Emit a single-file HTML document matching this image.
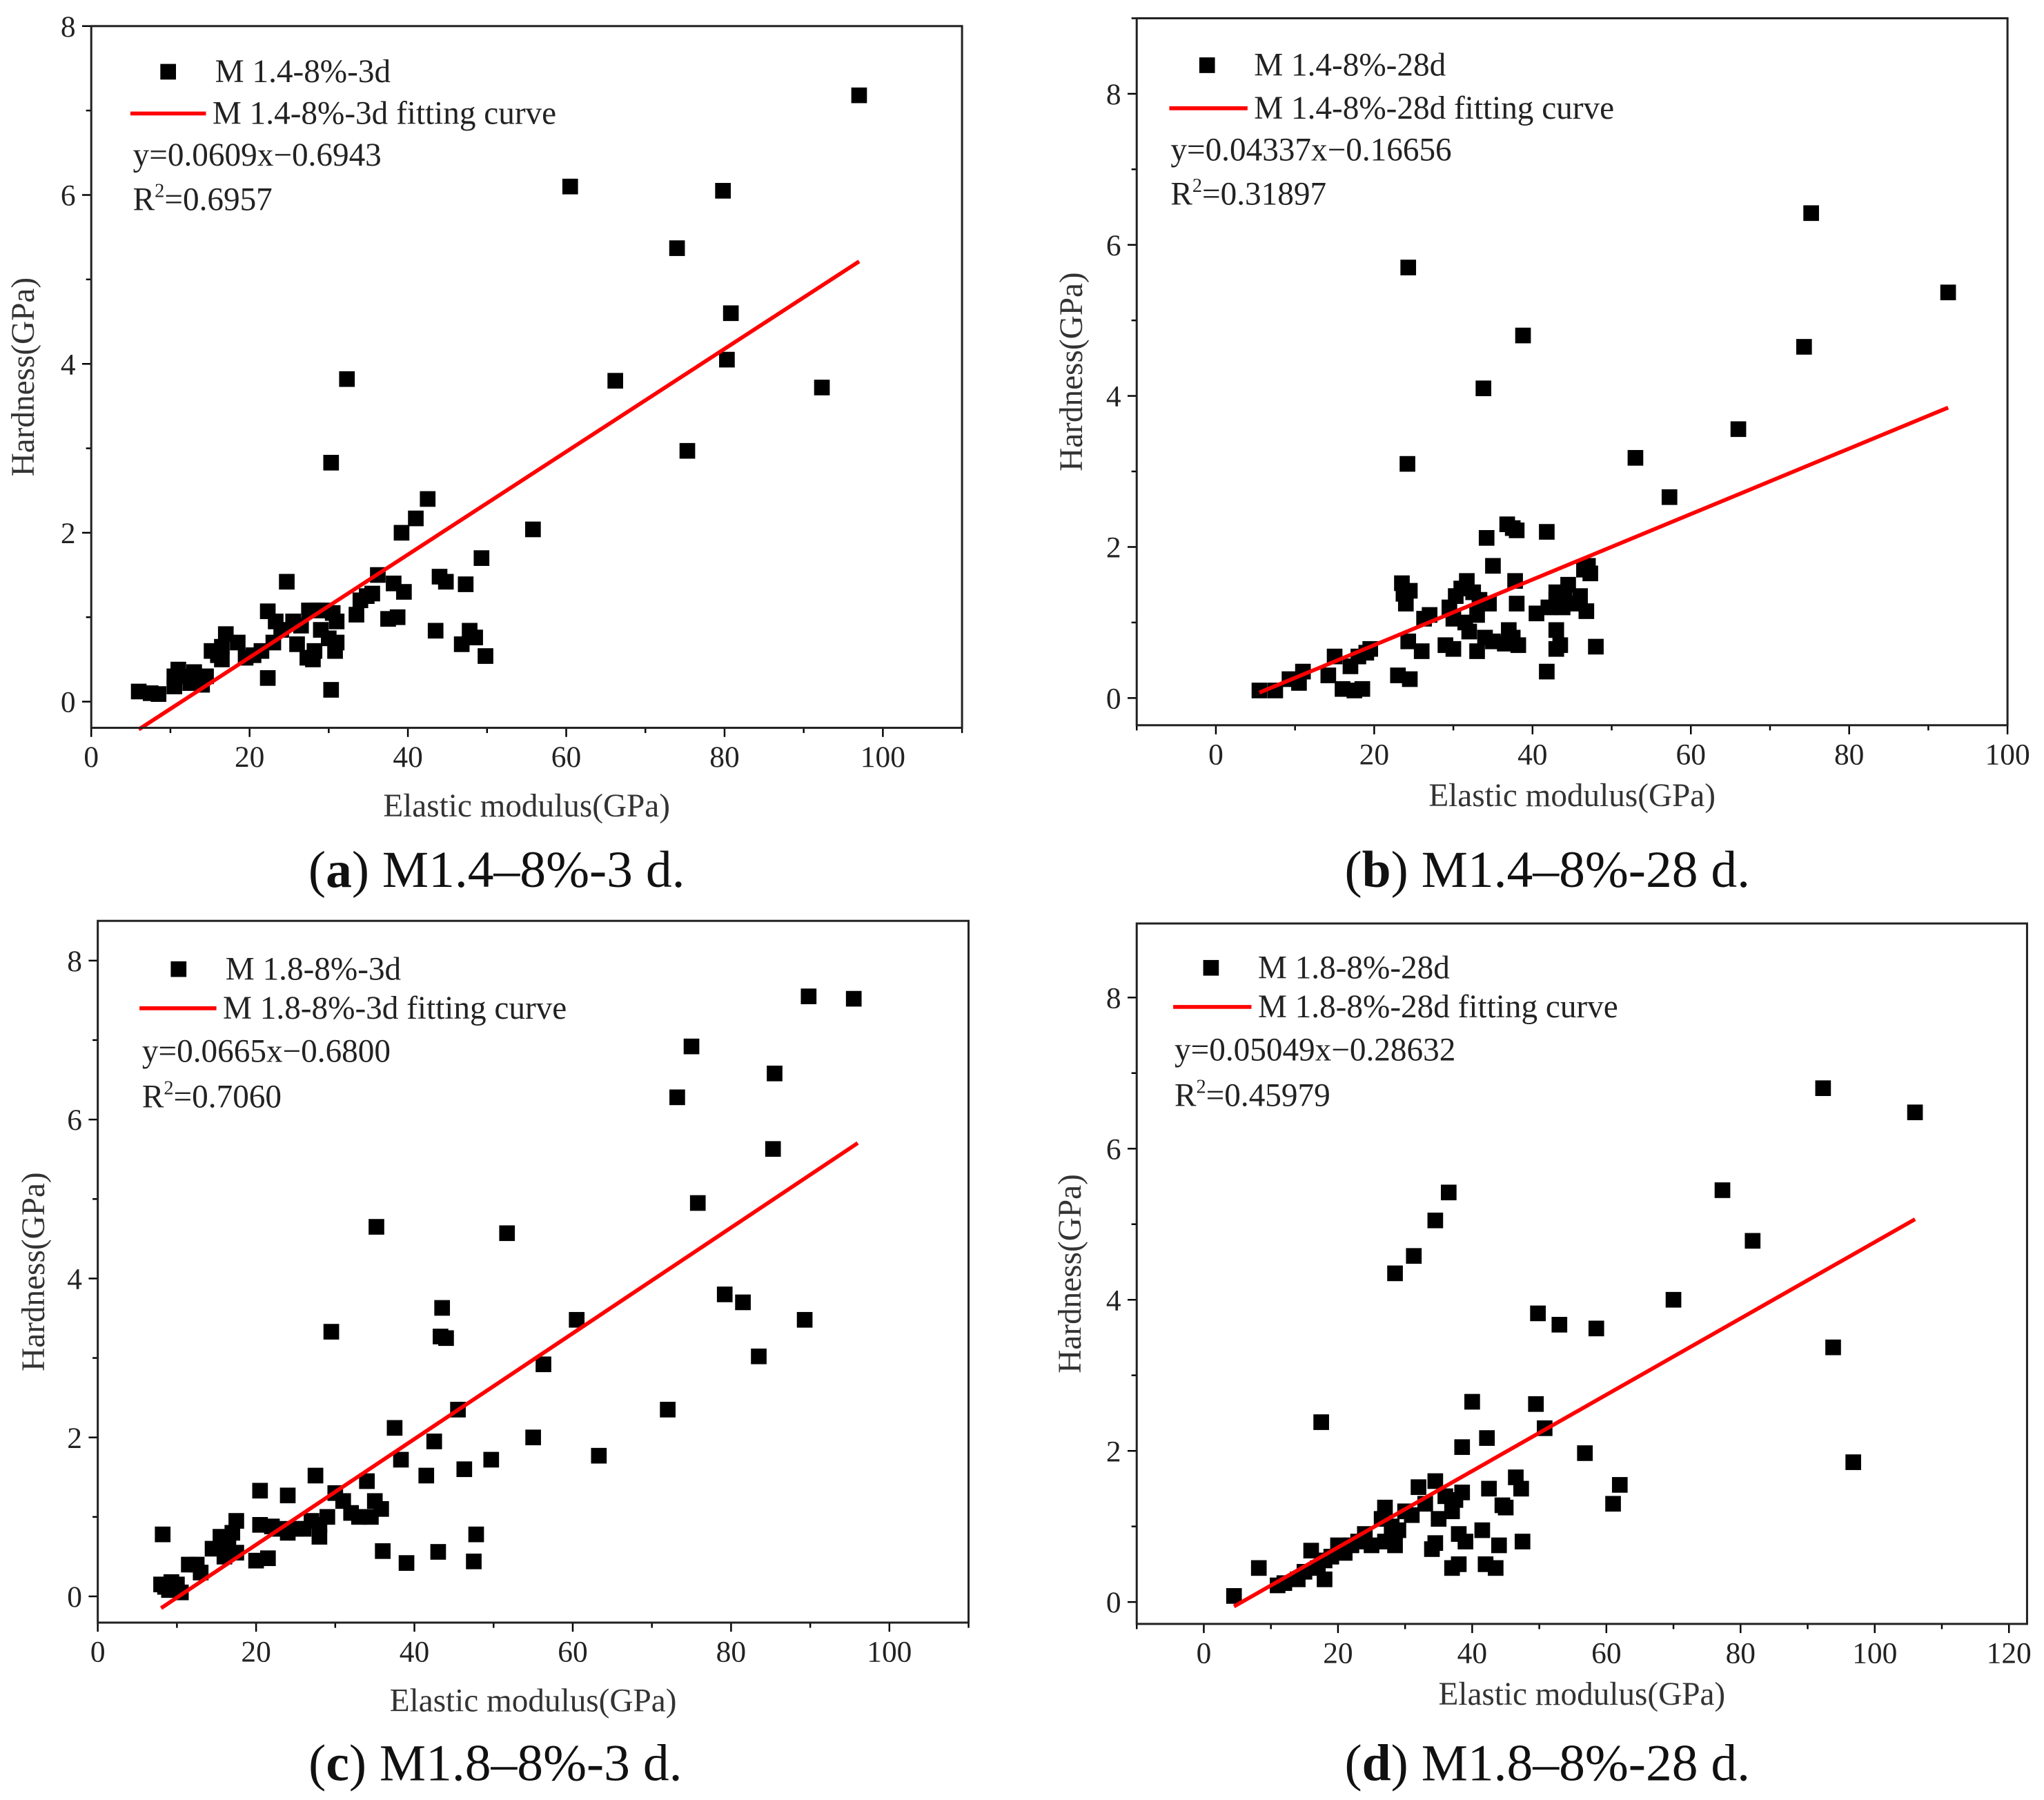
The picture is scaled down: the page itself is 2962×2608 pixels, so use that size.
<!DOCTYPE html>
<html><head><meta charset="utf-8"><style>
html,body{margin:0;padding:0;background:#fff;}
svg{display:block;font-family:"Liberation Serif",serif;}
</style></head><body>
<svg id="fig" width="2962" height="2608" viewBox="0 0 1568 1380" preserveAspectRatio="none" xmlns="http://www.w3.org/2000/svg"></svg>
<script>
// ---- data (E = elastic modulus GPa, H = hardness GPa) ----
const aPoints = [[97,7.18],[60.5,6.1],[79.8,6.05],[74,5.37],[80.8,4.6],[80.3,4.05],[66.2,3.8],[92.3,3.72],[75.3,2.97],[32.3,3.82],[30.3,2.83],[55.8,2.04],[42.5,2.4],[41,2.17],[39.2,2.0],[49.3,1.7],[44,1.48],[44.8,1.42],[47.3,1.39],[38.2,1.4],[39.5,1.3],[36.2,1.5],[35.5,1.28],[34,1.2],[34.8,1.25],[33.5,1.03],[37.5,0.98],[38.7,1.0],[43.5,0.84],[47.8,0.84],[48.5,0.76],[46.8,0.68],[49.8,0.54],[30.3,0.14],[24.7,1.42],[22.3,1.07],[23.3,0.95],[25.5,0.95],[27.5,1.08],[28.5,1.08],[29.5,1.08],[30.5,1.05],[31,0.95],[29,0.85],[30,0.75],[31,0.7],[30.8,0.6],[28.2,0.6],[27.3,0.52],[28,0.5],[26,0.68],[23,0.7],[21.5,0.6],[22.3,0.28],[19.5,0.52],[18.5,0.7],[17,0.8],[16.5,0.65],[16,0.55],[15.2,0.6],[16.5,0.5],[14.5,0.3],[14,0.2],[13,0.35],[12,0.3],[11,0.38],[10.5,0.3],[10.5,0.18],[7.5,0.1],[8.5,0.09],[6,0.12],[12.5,0.22],[20.5,0.55],[24,0.85],[26.5,0.9]];
const bPoints = [[75.2,6.42],[24.3,5.7],[92.5,5.37],[38.8,4.8],[74.3,4.65],[33.8,4.1],[66,3.56],[24.2,3.1],[53,3.18],[57.3,2.66],[41.8,2.2],[34.2,2.12],[36.8,2.3],[37.5,2.25],[38,2.22],[35,1.75],[23.5,1.52],[23.7,1.38],[24.5,1.42],[24,1.25],[26.3,1.05],[27,1.1],[29.5,1.2],[30.3,1.35],[31,1.45],[31.7,1.55],[32.5,1.4],[33.3,1.3],[34.5,1.25],[31.5,1.0],[32,0.88],[33,1.1],[30,1.05],[29,0.7],[30,0.65],[33,0.62],[34,0.8],[35,0.75],[36.5,0.72],[37.5,0.8],[37,0.9],[38.2,0.7],[37.8,1.55],[38,1.25],[40.5,1.12],[42,1.2],[43,1.4],[43,1.3],[43.8,1.2],[44.5,1.5],[45,1.25],[46,1.35],[46.5,1.7],[47,1.75],[47.3,1.65],[46.8,1.15],[43,0.9],[43,0.65],[43.5,0.7],[41.8,0.35],[48,0.68],[44,1.35],[24.3,0.75],[26,0.62],[24.5,0.25],[23,0.3],[19.5,0.65],[19,0.6],[18,0.55],[17,0.42],[15,0.55],[14.2,0.3],[11,0.35],[10.5,0.2],[9.3,0.25],[7.5,0.1],[5.5,0.1],[16,0.12],[17.5,0.1],[18.5,0.12]];
const cPoints = [[89.8,7.55],[95.5,7.52],[75,6.92],[85.5,6.58],[73.2,6.28],[85.3,5.63],[75.8,4.95],[35.2,4.65],[51.7,4.57],[79.2,3.8],[81.5,3.7],[43.5,3.63],[43.3,3.27],[44,3.25],[89.3,3.48],[60.5,3.48],[29.5,3.33],[83.5,3.02],[56.3,2.92],[72,2.35],[45.5,2.35],[37.5,2.12],[42.5,1.95],[55,2.0],[63.3,1.77],[49.7,1.72],[38.3,1.72],[46.3,1.6],[41.5,1.52],[27.5,1.52],[34,1.45],[30,1.3],[20.5,1.33],[24,1.27],[35,1.2],[35.8,1.1],[31,1.2],[32,1.05],[33,1.0],[29,1.0],[28,0.9],[27,0.95],[26,0.85],[25,0.85],[24,0.8],[23,0.85],[22,0.88],[20.5,0.9],[28,0.75],[17.5,0.95],[17,0.8],[16.5,0.72],[16,0.65],[15.5,0.75],[14.5,0.6],[17.5,0.55],[16,0.5],[12.5,0.4],[11.5,0.4],[13,0.3],[10,0.15],[9.3,0.18],[8.5,0.12],[8,0.15],[8.2,0.78],[9,0.08],[10.5,0.05],[20,0.45],[21.5,0.48],[36,0.57],[39,0.42],[43,0.56],[47.5,0.44],[47.8,0.78],[34.5,1.0]];
const dPoints = [[92.3,6.8],[106,6.48],[77.3,5.45],[36.5,5.42],[34.5,5.05],[31.3,4.58],[28.5,4.35],[70,4.0],[81.8,4.78],[49.8,3.82],[53,3.67],[58.5,3.62],[93.8,3.37],[40,2.65],[49.5,2.62],[17.5,2.38],[50.8,2.3],[42.2,2.17],[38.5,2.05],[56.8,1.97],[96.8,1.85],[62,1.55],[61,1.3],[46.5,1.65],[47.3,1.5],[34.5,1.6],[32,1.52],[36,1.4],[37.5,1.35],[38.5,1.45],[42.5,1.5],[44.5,1.28],[45,1.25],[33,1.3],[35,1.1],[37,1.2],[30,1.2],[31,1.15],[27,1.25],[26.5,1.1],[28,1.0],[29,0.95],[27,0.8],[28.5,0.75],[24,0.9],[23,0.8],[25,0.75],[22,0.75],[20,0.75],[21,0.65],[19,0.6],[18,0.55],[17,0.45],[16,0.68],[15,0.4],[14,0.3],[12,0.25],[11,0.22],[8.2,0.45],[4.5,0.08],[34.5,0.78],[34,0.7],[38,0.9],[39,0.8],[41.5,0.95],[44,0.75],[47.5,0.8],[37,0.45],[38,0.5],[42,0.5],[43.5,0.45],[18,0.3]];
const aFit = [0.0609, -0.6943, 6, 97];
const bFit = [0.04337, -0.16656, 5.5, 92.5];
const cFit = [0.0665, -0.6800, 8, 96];
const dFit = [0.05049, -0.28632, 4.5, 106];
const aXTicks = [0,20,40,60,80,100], aYTicks = [0,2,4,6,8];
const bXTicks = [0,20,40,60,80,100], bYTicks = [0,2,4,6,8];
const cXTicks = [0,20,40,60,80,100], cYTicks = [0,2,4,6,8];
const dXTicks = [0,20,40,60,80,100,120], dYTicks = [0,2,4,6,8];
const labels = [
 ["M 1.4-8%-3d","M 1.4-8%-3d fitting curve","y=0.0609x\u22120.6943","0.6957","(a)"," M1.4\u20138%-3 d."],
 ["M 1.4-8%-28d","M 1.4-8%-28d fitting curve","y=0.04337x\u22120.16656","0.31897","(b)"," M1.4\u20138%-28 d."],
 ["M 1.8-8%-3d","M 1.8-8%-3d fitting curve","y=0.0665x\u22120.6800","0.7060","(c)"," M1.8\u20138%-3 d."],
 ["M 1.8-8%-28d","M 1.8-8%-28d fitting curve","y=0.05049x\u22120.28632","0.45979","(d)"," M1.8\u20138%-28 d."]
];

const NS="http://www.w3.org/2000/svg";
const svg=document.getElementById('fig');
function mk(tag,attrs,parent,text){const e=document.createElementNS(NS,tag);for(const k in attrs)e.setAttribute(k,attrs[k]);if(text!==undefined)e.textContent=text;(parent||svg).appendChild(e);return e;}

const panels=[
 {id:'a',L:70,R:738,T:20,B:558,x0:0,x1:110,y0:-0.31,y1:8,pts:aPoints,fit:aFit,xt:aXTicks,yt:aYTicks,lab:labels[0],leg:[129,55,100,158,87,119,153,102],xtY:626,ytX:26,capX:381,capY:680},
 {id:'b',L:872,R:1540,T:14,B:556,x0:-10,x1:100,y0:-0.36,y1:9,pts:bPoints,fit:bFit,xt:bXTicks,yt:bYTicks,lab:labels[1],leg:[926,50,897,957,83,115,149,898],xtY:618,ytX:830,capX:1187,capY:680},
 {id:'c',L:75,R:743,T:706,B:1244,x0:0,x1:110,y0:-0.33,y1:8.5,pts:cPoints,fit:cFit,xt:cXTicks,yt:cYTicks,lab:labels[2],leg:[137,743,107,166,773,806,841,109],xtY:1312,ytX:34,capX:380,capY:1365},
 {id:'d',L:872,R:1555,T:708,B:1245,x0:-10,x1:122.7,y0:-0.29,y1:8.98,pts:dPoints,fit:dFit,xt:dXTicks,yt:dYTicks,lab:labels[3],leg:[929,742,900,960,772,805,840,901],xtY:1307,ytX:829,capX:1187,capY:1365}
];

panels.forEach(p=>{
 const g=mk('g',{});
 
 
 const sx=v=>p.L+(v-p.x0)/(p.x1-p.x0)*(p.R-p.L);
 const sy=v=>p.B-(v-p.y0)/(p.y1-p.y0)*(p.B-p.T);
 const step=p.xt[1]-p.xt[0];
 for(let v=p.xt[0]-step;v<=p.x1+0.001;v+=step/2){
  if(v<p.x0-0.001)continue;
  const major=p.xt.some(t=>Math.abs(t-v)<1e-6);
  mk('line',{x1:sx(v),x2:sx(v),y1:p.B,y2:p.B+(major?7:4),stroke:'#000','stroke-width':1.3},g);
 }
 p.xt.forEach(v=>{const t=mk('text',{x:sx(v),y:p.B+30,'font-size':23,'text-anchor':'middle',fill:'#222'},g,String(v));});
 const ystep=p.yt[1]-p.yt[0];
 for(let v=p.yt[0]-ystep/2;v<=p.y1+0.001;v+=ystep/2){
  if(v<p.y0-0.001)continue;
  const major=p.yt.some(t=>Math.abs(t-v)<1e-6);
  mk('line',{x1:p.L,x2:p.L-(major?7:4),y1:sy(v),y2:sy(v),stroke:'#000','stroke-width':1.3},g);
 }
 p.yt.forEach(v=>{const t=mk('text',{x:p.L-12,y:sy(v)+8,'font-size':23,'text-anchor':'end',fill:'#222'},g,String(v));});
 p.pts.forEach(([x,y])=>{
  const r=mk('rect',{x:sx(x)-6,y:sy(y)-6,width:12,height:12,fill:'#000'},g);
  
  
 });
 const f=p.fit;
 const ln=mk('line',{x1:sx(f[2]),y1:sy(f[0]*f[2]+f[1]),x2:sx(f[3]),y2:sy(f[0]*f[3]+f[1]),stroke:'#ff0000','stroke-width':3},g);
 
 
 const fr=mk('rect',{x:p.L,y:p.T,width:p.R-p.L,height:p.B-p.T,fill:'none',stroke:'#222','stroke-width':1.6},g);
 
 
 const lg=p.leg, lab=p.lab;
 const leg=mk('g',{},g);
 
 
 mk('rect',{x:lg[0]-6,y:lg[1]-6,width:12,height:12,fill:'#000'},leg);
 mk('text',{x:lg[0]+36,y:lg[1]+8,'font-size':25,fill:'#222'},leg,lab[0]);
 mk('line',{x1:lg[2],x2:lg[3],y1:lg[4],y2:lg[4],stroke:'#ff0000','stroke-width':3},leg);
 mk('text',{x:lg[3]+5,y:lg[4]+8,'font-size':25,fill:'#222'},leg,lab[1]);
 const eq=mk('text',{x:lg[7],y:lg[5]+8,'font-size':25,fill:'#222'},g,lab[2]);
 
 
 const r2=mk('text',{x:lg[7],y:lg[6]+8,'font-size':25,fill:'#222'},g);
 
 
 r2.appendChild(document.createTextNode('R'));
 mk('tspan',{'font-size':15,dy:-10},r2,'2');
 mk('tspan',{dy:10},r2,'='+lab[3]);
 const xt=mk('text',{x:(p.L+p.R)/2,y:p.xtY,'font-size':25,'text-anchor':'middle',fill:'#333'},g,'Elastic modulus(GPa)');
 
 
 const cy=(p.T+p.B)/2;
 const yt=mk('text',{x:p.ytX,y:cy,'font-size':25,'text-anchor':'middle',fill:'#333',transform:'rotate(-90 '+p.ytX+' '+cy+')'},g,'Hardness(GPa)');
 
 
 const cap=mk('text',{x:p.capX,y:p.capY,'font-size':40,'text-anchor':'middle',fill:'#111'},g);
 
 
 mk('tspan',{},cap,'(');
 mk('tspan',{'font-weight':'bold'},cap,lab[4].slice(1,2));
 mk('tspan',{},cap,')'+lab[5]);
});
</script>
</body></html>
